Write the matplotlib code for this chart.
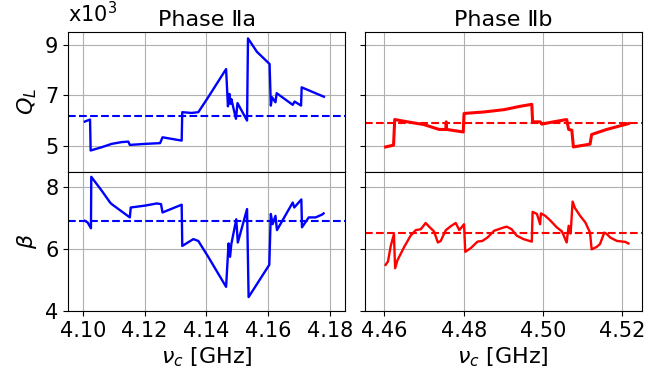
import matplotlib
matplotlib.use("Agg")
import matplotlib.pyplot as plt

# Phase IIa (blue)
a_q_x = [4.1006, 4.1023, 4.1025, 4.1061, 4.1093, 4.1125, 4.1147, 4.1152, 4.1201, 4.1250,
         4.1258, 4.1277, 4.1320, 4.1322, 4.1352, 4.1374, 4.1406, 4.1464, 4.1470, 4.1475,
         4.1478, 4.1481, 4.1496, 4.1501, 4.1532, 4.1535, 4.1564, 4.1605, 4.1609, 4.1613,
         4.1624, 4.1628, 4.1680, 4.1686, 4.1707, 4.1709, 4.1781]
a_q_y = [5.97, 6.05, 4.83, 4.96, 5.09, 5.16, 5.18, 5.05, 5.09, 5.12,
         5.35, 5.31, 5.22, 6.34, 6.31, 6.34, 6.93, 8.04, 6.57, 7.06,
         6.67, 6.86, 6.08, 6.70, 6.01, 9.25, 8.72, 8.24, 6.60, 6.93,
         6.73, 7.09, 6.63, 6.76, 6.60, 7.32, 6.95]
a_b_x = [4.1006, 4.1015, 4.1026, 4.1027, 4.1061, 4.1088, 4.1093, 4.1152, 4.1155, 4.1201,
         4.1239, 4.1253, 4.1258, 4.1320, 4.1322, 4.1358, 4.1374, 4.1406, 4.1464, 4.1472,
         4.1477, 4.1481, 4.1497, 4.1502, 4.1532, 4.1537, 4.1604, 4.1609, 4.1615, 4.1624,
         4.1629, 4.1680, 4.1685, 4.1708, 4.1710, 4.1732, 4.1754, 4.1775, 4.1780]
a_b_y = [6.91, 6.86, 6.67, 8.33, 7.88, 7.50, 7.45, 7.02, 7.34, 7.40,
         7.47, 7.45, 7.18, 7.43, 6.10, 6.32, 6.26, 5.75, 4.78, 6.18,
         5.75, 6.16, 6.96, 6.21, 7.29, 4.45, 5.49, 7.13, 6.80, 7.07,
         6.61, 7.50, 7.34, 7.60, 6.70, 7.02, 7.02, 7.11, 7.15]
a_q_mean = 6.18
a_b_mean = 6.89

# Phase IIb (red)
b_q_x = [4.4603, 4.4623, 4.4626, 4.4658, 4.4700, 4.4738, 4.4755, 4.4756, 4.4757, 4.4799,
         4.4801, 4.4852, 4.4902, 4.4942, 4.4972, 4.4974, 4.4993, 4.4997, 4.5027, 4.5060,
         4.5065, 4.5073, 4.5077, 4.5119, 4.5123, 4.5161, 4.5216]
b_q_y = [4.97, 5.04, 6.05, 5.96, 5.85, 5.66, 5.66, 5.96, 5.66, 5.56,
         6.29, 6.35, 6.44, 6.57, 6.65, 5.96, 5.96, 5.87, 5.96, 6.05,
         5.66, 5.63, 4.97, 5.08, 5.46, 5.66, 5.89]
b_b_x = [4.4603, 4.4609, 4.4616, 4.4624, 4.4627, 4.4633, 4.4650, 4.4666, 4.4679, 4.4692,
         4.4704, 4.4713, 4.4725, 4.4735, 4.4742, 4.4755, 4.4769, 4.4780, 4.4789, 4.4801,
         4.4804, 4.4818, 4.4835, 4.4847, 4.4860, 4.4877, 4.4902, 4.4909, 4.4921, 4.4934,
         4.4951, 4.4972, 4.4974, 4.4985, 4.4993, 4.4995, 4.5006, 4.5018, 4.5035, 4.5048,
         4.5060, 4.5065, 4.5070, 4.5075, 4.5081, 4.5094, 4.5107, 4.5119, 4.5123, 4.5136,
         4.5144, 4.5155, 4.5160, 4.5170, 4.5187, 4.5208, 4.5216]
b_b_y = [5.49, 5.60, 6.10, 6.48, 5.38, 5.64, 6.07, 6.43, 6.61, 6.64,
         6.84, 6.72, 6.57, 6.21, 6.26, 6.61, 6.75, 6.84, 6.61, 6.80,
         5.91, 6.03, 6.24, 6.26, 6.37, 6.59, 6.70, 6.72, 6.64, 6.43,
         6.32, 6.24, 7.20, 7.13, 6.80, 7.15, 7.07, 6.93, 6.70, 6.57,
         6.21, 6.75, 6.50, 7.53, 7.32, 7.07, 6.86, 6.53, 5.99, 6.07,
         6.16, 6.53, 6.50, 6.37, 6.26, 6.23, 6.18]
b_q_mean = 5.90
b_b_mean = 6.52

titles = ["Phase \u2161a", "Phase \u2161b"]
x_ticks_a = [4.10, 4.12, 4.14, 4.16, 4.18]
x_ticks_b = [4.46, 4.48, 4.50, 4.52]
q_ticks = [5, 7, 9]
b_ticks = [4, 6, 8]

FS_TICK = 15
FS_LAB = 16
plt.rcParams['font.size'] = FS_TICK
fig, axes = plt.subplots(2, 2, figsize=(6.68, 3.77), dpi=100, sharey='row', sharex='col')
fig.subplots_adjust(left=0.102, right=0.961, top=0.915, bottom=0.175, hspace=0, wspace=0.069)

(axq_a, axq_b), (axb_a, axb_b) = axes
lw = 1.7
axq_a.plot(a_q_x, a_q_y, color='blue', lw=lw)
axq_a.axhline(a_q_mean, color='blue', ls='--', lw=1.5)
axb_a.plot(a_b_x, a_b_y, color='blue', lw=lw)
axb_a.axhline(a_b_mean, color='blue', ls='--', lw=1.5)
axq_b.plot(b_q_x, b_q_y, color='red', lw=2.2)
axq_b.axhline(b_q_mean, color='red', ls='--', lw=1.5)
axb_b.plot(b_b_x, b_b_y, color='red', lw=lw)
axb_b.axhline(b_b_mean, color='red', ls='--', lw=1.5)

for ax in axes.flat:
    ax.grid(True, color='#b0b0b0', lw=0.8)
    ax.tick_params(labelsize=FS_TICK)

axq_a.set_ylim(4.0, 9.5)
axb_a.set_ylim(4.0, 8.5)
axq_a.set_yticks(q_ticks)
axb_a.set_yticks(b_ticks)
axb_a.set_xlim(4.0952, 4.1851)
axb_b.set_xlim(4.4550, 4.5250)
axb_a.set_xticks(x_ticks_a)
axb_a.set_xticklabels(["%.2f" % v for v in x_ticks_a])
axb_b.set_xticks(x_ticks_b)
axb_b.set_xticklabels(["%.2f" % v for v in x_ticks_b])

axq_a.set_title(titles[0], fontsize=FS_LAB, pad=4)
axq_b.set_title(titles[1], fontsize=FS_LAB, pad=4)
axq_a.set_ylabel(r"$Q_L$", fontsize=FS_LAB)
axb_a.set_ylabel(r"$\beta$", fontsize=FS_LAB)
axb_a.set_xlabel(r"$\nu_c$ [GHz]", fontsize=FS_LAB, labelpad=3)
axb_b.set_xlabel(r"$\nu_c$ [GHz]", fontsize=FS_LAB, labelpad=3)
fig.text(0.102, 0.93, r"x10$^3$", fontsize=FS_TICK, ha='left', va='bottom')

fig.savefig("out.png", dpi=100)
